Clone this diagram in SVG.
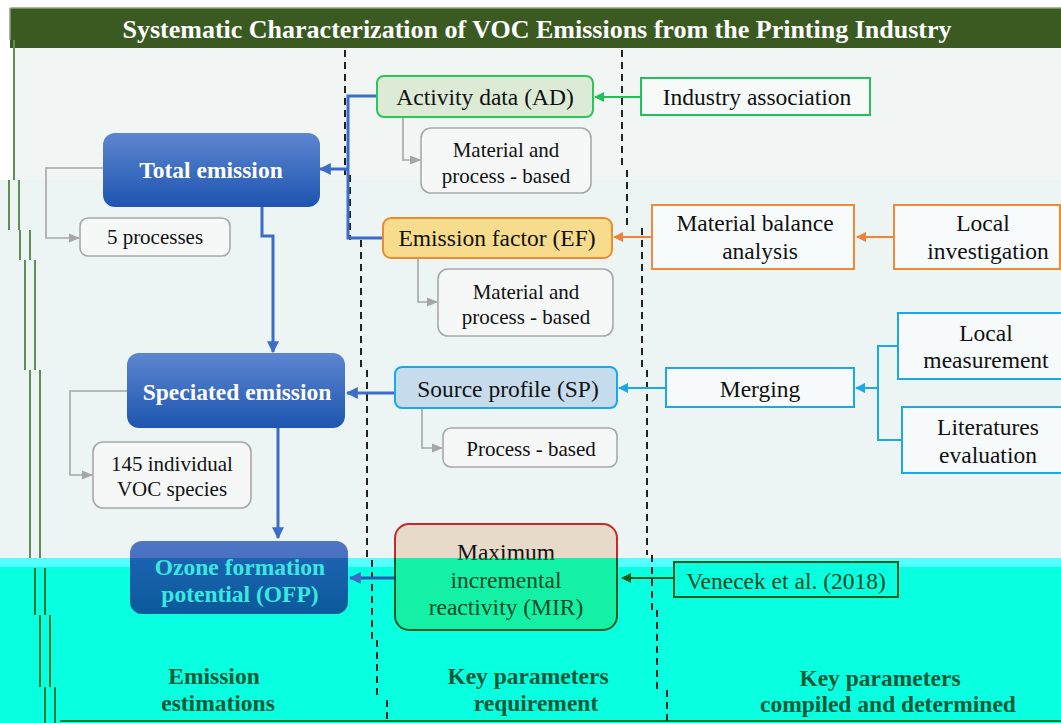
<svg xmlns="http://www.w3.org/2000/svg" width="1061" height="723" viewBox="0 0 1061 723">
<defs>
<style>
.t{font-family:"Liberation Serif","Times New Roman",serif;font-size:23.5px;fill:#111;text-anchor:middle}
.s{font-size:21px}
.b{font-weight:bold;fill:#fff;font-size:23.5px}
.lab{font-family:"Liberation Serif","Times New Roman",serif;font-weight:bold;font-size:23.5px;fill:#0a5a38;text-anchor:middle}
.gray{fill:#f6f8f8;stroke:#a8a8a8;stroke-width:1.6}
.dash{stroke:#222;stroke-width:2;stroke-dasharray:7 5;fill:none}
.frame{stroke:#5f8f55;stroke-width:2;fill:none}
.cg{stroke:#a6a6a6;stroke-width:1.6;fill:none}
.cb{stroke:#3a6cc8;stroke-width:3;fill:none}
.cgr{stroke:#22c05a;stroke-width:2;fill:none}
.co{stroke:#f0823a;stroke-width:2;fill:none}
.cc{stroke:#1aa8e8;stroke-width:2;fill:none}
.cd{stroke:#1a5a1a;stroke-width:2;fill:none}
</style>
<marker id="ag" viewBox="0 0 10 10" refX="9" refY="5" markerWidth="7" markerHeight="7" orient="auto"><path d="M0,1 L10,5 L0,9 z" fill="#a6a6a6"/></marker>
<marker id="ab" viewBox="0 0 10 10" refX="9" refY="5" markerWidth="4" markerHeight="4" orient="auto"><path d="M0,0 L10,5 L0,10 z" fill="#3a6cc8"/></marker>
<marker id="agr" viewBox="0 0 10 10" refX="9" refY="5" markerWidth="5" markerHeight="5" orient="auto"><path d="M0,0 L10,5 L0,10 z" fill="#22c05a"/></marker>
<marker id="ao" viewBox="0 0 10 10" refX="9" refY="5" markerWidth="5" markerHeight="5" orient="auto"><path d="M0,0 L10,5 L0,10 z" fill="#f0823a"/></marker>
<marker id="ac" viewBox="0 0 10 10" refX="9" refY="5" markerWidth="5" markerHeight="5" orient="auto"><path d="M0,0 L10,5 L0,10 z" fill="#1aa8e8"/></marker>
<marker id="ad" viewBox="0 0 10 10" refX="9" refY="5" markerWidth="5" markerHeight="5" orient="auto"><path d="M0,0 L10,5 L0,10 z" fill="#1a5a1a"/></marker>
<linearGradient id="gb" x1="0" y1="0" x2="0" y2="1"><stop offset="0" stop-color="#5d86d0"/><stop offset="1" stop-color="#1d55b0"/></linearGradient>
<linearGradient id="gofp" gradientUnits="userSpaceOnUse" x1="0" y1="541" x2="0" y2="614"><stop offset="0" stop-color="#4f76c6"/><stop offset="0.23" stop-color="#4a70c2"/><stop offset="0.23" stop-color="#1c62b0"/><stop offset="1" stop-color="#0a5a9a"/></linearGradient>
<linearGradient id="gmir" gradientUnits="userSpaceOnUse" x1="0" y1="524" x2="0" y2="630"><stop offset="0" stop-color="#e8dac8"/><stop offset="0.32" stop-color="#e8dac8"/><stop offset="0.32" stop-color="#14f2a8"/><stop offset="1" stop-color="#14f0a6"/></linearGradient>
<linearGradient id="smir" gradientUnits="userSpaceOnUse" x1="0" y1="524" x2="0" y2="630"><stop offset="0" stop-color="#c8282a"/><stop offset="0.32" stop-color="#c8282a"/><stop offset="0.32" stop-color="#0e5a1e"/><stop offset="1" stop-color="#0e5a1e"/></linearGradient>
<linearGradient id="tofp" gradientUnits="userSpaceOnUse" x1="0" y1="555" x2="0" y2="605"><stop offset="0" stop-color="#ffffff"/><stop offset="0.06" stop-color="#ffffff"/><stop offset="0.06" stop-color="#3ae8e0"/><stop offset="1" stop-color="#3ae8e0"/></linearGradient>
<linearGradient id="tmir" gradientUnits="userSpaceOnUse" x1="0" y1="540" x2="0" y2="620"><stop offset="0" stop-color="#111"/><stop offset="0.22" stop-color="#111"/><stop offset="0.22" stop-color="#0a4a22"/><stop offset="1" stop-color="#0a4a22"/></linearGradient>
</defs>

<g id="background">
<rect x="0" y="0" width="1061" height="723" fill="#ffffff"/>
<rect x="14" y="48" width="1047" height="510" fill="#f1f6f5"/>
<rect x="0" y="180" width="1061" height="378" fill="#edf5f4"/>
<rect x="0" y="558" width="1061" height="165" fill="#08ffe0"/>
<rect x="0" y="558" width="1061" height="9" fill="#55ffff"/>
<rect x="10" y="8" width="1051" height="40" fill="#3a5a22"/>
<line x1="10" y1="8" x2="1061" y2="8" stroke="#8aa27e" stroke-width="1.5"/>
<line x1="10" y1="8" x2="10" y2="40" stroke="#8aa27e" stroke-width="1.5"/>
<text x="537" y="38" font-family="Liberation Serif, serif" font-weight="bold" font-size="26" fill="#ffffff" text-anchor="middle">Systematic Characterization of VOC Emissions from the Printing Industry</text>
</g>

<g id="frame-lines">
<path class="frame" d="M14,40 V180 M9,180 V230 M19,180 V230 M20,230 V260 M30,230 V260 M25,260 V370 M35,260 V370 M30,370 V558 M40,370 V558"/>
<path class="frame" style="stroke:#0a7a30" d="M35,568 V615 M45,568 V615 M40,615 V687 M50,615 V687 M45,687 V723 M55,687 V723 M60,721 H1061"/>
</g>

<g id="dividers">
<path class="dash" d="M345,50 V175 M350,175 V240 M361,240 V370 M367,370 V560 M372,560 V640 M377,640 V700 M387,700 V723"/>
<path class="dash" d="M622,50 V170 M627,170 V228 M642,228 V370 M647,370 V555 M652,555 V610 M657,610 V690 M667,690 V723"/>
</g>

<g id="connectors">
<path class="cgr" d="M641,97 H595" marker-end="url(#agr)"/>
<path class="cb" d="M377,96 H348 V238 H383"/>
<path class="cb" d="M348,169 H320" marker-end="url(#ab)"/>
<path class="cg" d="M403,117 V160 H420" marker-end="url(#ag)"/>
<path class="cg" d="M103,168 H46 V238 H79" marker-end="url(#ag)"/>
<path class="cb" d="M262,207 V236 H273 V352" marker-end="url(#ab)"/>
<path class="co" d="M894,237 H857" marker-end="url(#ao)"/>
<path class="co" d="M652,237 H614" marker-end="url(#ao)"/>
<path class="cg" d="M418,258 V302 H437" marker-end="url(#ag)"/>
<path class="cb" d="M395,393 H347" marker-end="url(#ab)"/>
<path class="cg" d="M422,408 V448 H442" marker-end="url(#ag)"/>
<path class="cc" d="M666,388 H619" marker-end="url(#ac)"/>
<path class="cc" d="M898,346 H878 V440 H902"/>
<path class="cc" d="M878,388 H856" marker-end="url(#ac)"/>
<path class="cg" d="M127,391 H70 V475 H92" marker-end="url(#ag)"/>
<path class="cb" d="M278,428 V538" marker-end="url(#ab)"/>
<path class="cb" style="stroke:#2a5ab0" d="M398,578 H350" marker-end="url(#ab)"/>
<path class="cd" d="M674,578 H622" marker-end="url(#ad)"/>
</g>

<g id="total-emission">
<rect x="103" y="133" width="217" height="74" rx="12" fill="url(#gb)"/>
<text class="t b" x="211" y="178">Total emission</text>
</g>
<g id="five-processes">
<rect class="gray" x="80" y="218" width="150" height="38" rx="8"/>
<text class="t s" x="155" y="244">5 processes</text>
</g>
<g id="activity-data">
<rect x="377" y="76" width="216" height="41" rx="7" fill="#dcebd5" stroke="#2ec45a" stroke-width="2"/>
<text class="t" x="485" y="105">Activity data (AD)</text>
</g>
<g id="industry-association">
<rect x="641" y="78" width="229" height="37" fill="#f6faf9" stroke="#22c05a" stroke-width="2"/>
<text class="t" x="757" y="105">Industry association</text>
</g>
<g id="ad-material">
<rect class="gray" x="421" y="128" width="170" height="65" rx="10"/>
<text class="t s" x="506" y="157">Material and</text>
<text class="t s" x="506" y="183">process - based</text>
</g>
<g id="emission-factor">
<rect x="383" y="218" width="229" height="40" rx="8" fill="#f6dc8c" stroke="#f08a30" stroke-width="2"/>
<text class="t" x="497" y="246">Emission factor (EF)</text>
</g>
<g id="material-balance">
<rect x="652" y="205" width="202" height="64" fill="#f7fbfb" stroke="#f08a3a" stroke-width="2"/>
<text class="t" x="755" y="231">Material balance</text>
<text class="t" x="760" y="259">analysis</text>
</g>
<g id="local-investigation">
<rect x="894" y="205" width="166" height="64" fill="#f7fbfb" stroke="#f08a3a" stroke-width="2"/>
<text class="t" x="983" y="231">Local</text>
<text class="t" x="988" y="259">investigation</text>
</g>
<g id="ef-material">
<rect class="gray" x="438" y="269" width="175" height="67" rx="10"/>
<text class="t s" x="526" y="299">Material and</text>
<text class="t s" x="526" y="324">process - based</text>
</g>
<g id="speciated-emission">
<rect x="127" y="353" width="218" height="75" rx="12" fill="url(#gb)"/>
<text class="t b" x="237" y="400">Speciated emission</text>
</g>
<g id="source-profile">
<rect x="395" y="367" width="222" height="41" rx="7" fill="#c6dcec" stroke="#1aa8e8" stroke-width="2"/>
<text class="t" x="508" y="397">Source profile (SP)</text>
</g>
<g id="process-based">
<rect class="gray" x="443" y="428" width="174" height="39" rx="8"/>
<text class="t s" x="531" y="456">Process - based</text>
</g>
<g id="merging">
<rect x="666" y="368" width="188" height="39" fill="#f6fafa" stroke="#1aa8e8" stroke-width="2"/>
<text class="t" x="760" y="397">Merging</text>
</g>
<g id="local-measurement">
<rect x="898" y="313" width="167" height="66" fill="#f6fafa" stroke="#1aa8e8" stroke-width="2"/>
<text class="t" x="986" y="341">Local</text>
<text class="t" x="986" y="368">measurement</text>
</g>
<g id="literatures-evaluation">
<rect x="902" y="407" width="163" height="66" fill="#f6fafa" stroke="#1aa8e8" stroke-width="2"/>
<text class="t" x="988" y="435">Literatures</text>
<text class="t" x="988" y="463">evaluation</text>
</g>
<g id="voc-species">
<rect class="gray" x="93" y="442" width="158" height="66" rx="10"/>
<text class="t s" x="172" y="471">145 individual</text>
<text class="t s" x="172" y="496">VOC species</text>
</g>
<g id="ofp">
<rect x="130" y="541" width="218" height="73" rx="12" fill="url(#gofp)"/>
<text class="t b" x="240" y="575" style="fill:url(#tofp)">Ozone formation</text>
<text class="t b" x="240" y="602" style="fill:#3ae8e0">potential (OFP)</text>
</g>
<g id="mir">
<rect x="395" y="524" width="222" height="106" rx="14" fill="url(#gmir)" stroke="url(#smir)" stroke-width="2"/>
<text class="t" x="506" y="560" style="fill:url(#tmir)">Maximum</text>
<text class="t" x="506" y="588" style="fill:#0a4a22">incremental</text>
<text class="t" x="506" y="615" style="fill:#0a4a22">reactivity (MIR)</text>
</g>
<g id="venecek">
<rect x="674" y="562" width="224" height="35" fill="#08ffe0" stroke="#1a5a1a" stroke-width="2"/>
<text class="t" x="786" y="589" style="fill:#0a4a22">Venecek et al. (2018)</text>
</g>
<g id="column-labels">
<text class="lab" x="214" y="684">Emission</text>
<text class="lab" x="218" y="711">estimations</text>
<text class="lab" x="528" y="684">Key parameters</text>
<text class="lab" x="536" y="711">requirement</text>
<text class="lab" x="880" y="686">Key parameters</text>
<text class="lab" x="888" y="712">compiled and determined</text>
</g>
</svg>
